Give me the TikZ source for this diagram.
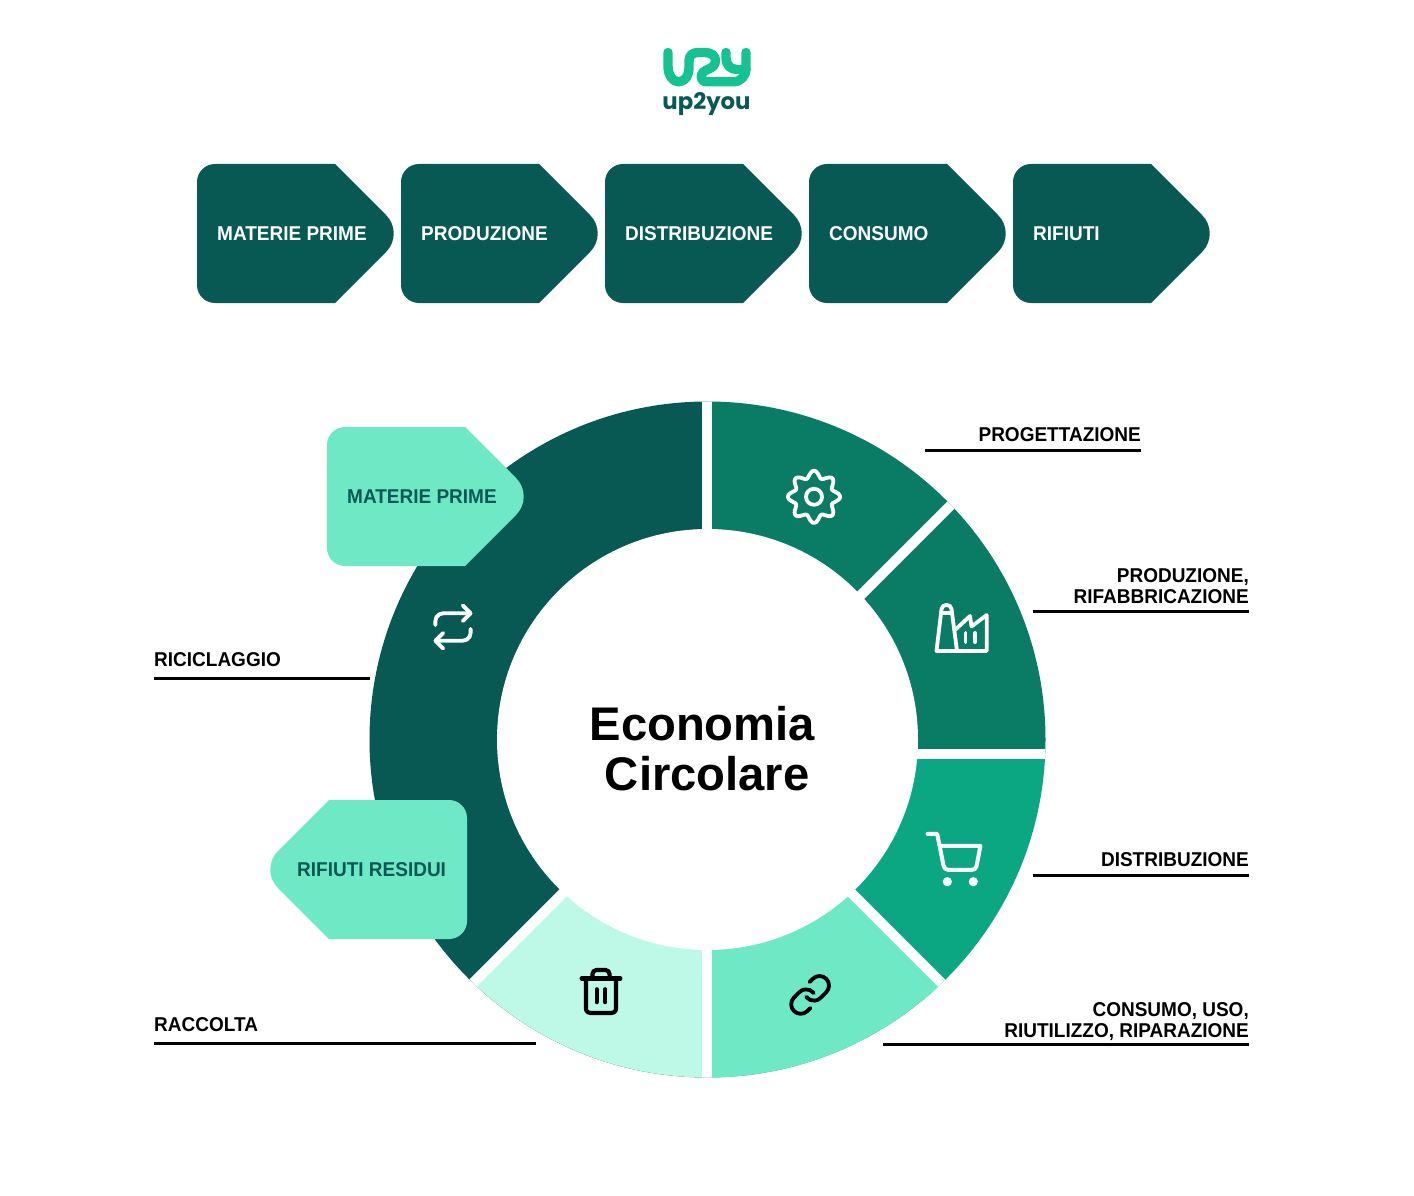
\documentclass[tikz,border=0pt]{standalone}
\usepackage{fontspec}
\setmainfont{Liberation Sans}
\newfontfamily\labfont[FakeStretch=0.95]{Liberation Sans Bold}
\newfontfamily\titlefont{Liberation Sans Bold}
\newfontfamily\logofont{Poppins Bold}
\usetikzlibrary{svg.path}
\definecolor{cdark}{HTML}{085954}
\definecolor{cone}{HTML}{0A7C66}
\definecolor{cthree}{HTML}{0BA783}
\definecolor{cfour}{HTML}{6EE8C5}
\definecolor{cfive}{HTML}{BEF8E6}
\definecolor{clogo}{HTML}{14C391}
\tikzset{
  lab/.style={font=\labfont\fontsize{20}{20}\selectfont,inner sep=0pt,text=black},
  boxlab/.style={lab,anchor=base west,text=white},
  lightlab/.style={lab,anchor=base west,text=cdark},
  leftlab/.style={lab,anchor=base west},
  rightlab/.style={lab,anchor=base east},
  leader/.style={draw=black,line width=3pt},
  gapline/.style={draw=white,line width=10pt},
  icon/.style={line width=3.8pt,line cap=round,line join=round},
  maintitle/.style={font=\titlefont\fontsize{47.2}{47.2}\selectfont,inner sep=0pt,anchor=base,text=black},
  logostroke/.style={draw=clogo,line width=9.4pt,line cap=round,line join=round},
}
\newcommand{\penta}[3]{%
  \begin{scope}[shift={(#1,#2)}]
    \fill[#3] (138,0) [rounded corners=26pt] -- (207.5,69.5) [sharp corners] -- (138,139)
      [rounded corners=18pt] -- (0,139) -- (0,0) [sharp corners] -- (138,0) -- cycle;
  \end{scope}}
\newcommand{\pentaL}[3]{%
  \begin{scope}[shift={(#1,#2)},xscale=-1]
    \fill[#3] (138,0) [rounded corners=26pt] -- (207.5,69.5) [sharp corners] -- (138,139)
      [rounded corners=18pt] -- (0,139) -- (0,0) [sharp corners] -- (138,0) -- cycle;
  \end{scope}}
\begin{document}
\begin{tikzpicture}[x=1pt,y=-1pt]
\useasboundingbox (0,0) rectangle (1414,1196);
\fill[white] (0,0) rectangle (1414,1196);

% logo
\draw[logostroke]
  (668,52.5) -- (668,66) .. controls (668,75.5) and (673,81.8) .. (678.5,81.8)
  .. controls (685,81.8) and (689,75.5) .. (689,67) -- (689,61)
  .. controls (689,55.5) and (692.5,52.5) .. (698,52.5) -- (705,52.5)
  .. controls (711.5,52.5) and (715.5,56) .. (715.5,60.5)
  .. controls (715.5,65.5) and (712,67.8) .. (708,69.3)
  .. controls (704,70.8) and (701.3,73) .. (701.3,76.5)
  .. controls (701.3,80) and (703.5,81.8) .. (707,81.8) -- (733,81.8)
  .. controls (741,81.8) and (746,76) .. (746,68) -- (746,52.5);
\draw[logostroke]
  (726,52.5) -- (726,58) .. controls (726,65) and (730.5,69.5) .. (737,69.5) -- (746,69.5);
\node[font=\logofont\fontsize{22.8}{22.8}\selectfont,text=cdark,inner sep=0pt,anchor=base] (logotext) at (706.5,110) {up2you};

% process arrows
\penta{197}{164}{cdark}
\penta{401}{164}{cdark}
\penta{605}{164}{cdark}
\penta{809}{164}{cdark}
\penta{1013}{164}{cdark}
\node[boxlab] (p1) at (217,240) {MATERIE PRIME};
\node[boxlab] (p2) at (421,240) {PRODUZIONE};
\node[boxlab] (p3) at (625,240) {DISTRIBUZIONE};
\node[boxlab] (p4) at (829,240) {CONSUMO};
\node[boxlab] (p5) at (1033,240) {RIFIUTI};

% ring
\begin{scope}
  \clip (707.5,739.5) circle[radius=338pt];
  \fill[cdark] (300,380) rectangle (707.3,1100);
  \fill[cone] (707.3,380) rectangle (1100,754.3);
  \fill[cthree] (707.3,754.3) rectangle (1100,1100);
  \fill[cfour] (707.3,748.8) -- (1100,1141.5) -- (707.3,1141.5) -- cycle;
  \fill[cfive] (707.3,748.7) -- (707.3,1150) -- (306,1150) -- cycle;
  \coordinate (gt) at (707.3,380);
  \coordinate (gb) at (707.3,1100);
  \coordinate (gr) at (1100,754.3);
  \coordinate (gc) at (707.3,754.3);
  \coordinate (g1a) at (356,1100);
  \coordinate (g1b) at (1056,400);
  \coordinate (g2a) at (707.25,748.75);
  \coordinate (g2b) at (1058.5,1100);
  \draw[gapline] (gt) -- (gb);
  \draw[gapline] (gc) -- (gr);
  \draw[gapline] (g1a) -- (g1b);
  \draw[gapline] (g2a) -- (g2b);
  \fill[white] (707.5,739.5) circle[radius=210.5pt];
\end{scope}

% ring icons: gear
\draw[white,line width=3.8pt,line join=round] plot[smooth cycle,samples=97,domain=0:356.25,variable=\t]
  ({814+(22.7+3.4*cos(8*\t))*cos(\t)},{496.8+(22.7+3.4*cos(8*\t))*sin(\t)});
\draw[white,line width=3.8pt] (814,496.8) circle[radius=8pt];

% factory
\draw[white,icon]
  (936.5,651) -- (941.5,609) .. controls (942,603.5) and (951,603.5) .. (951.5,609) -- (957,651) -- cycle;
\draw[white,icon]
  (955,630) -- (970,616) -- (971.5,626.5) -- (986.7,615) -- (986.7,651) -- (957,651);
\draw[white,icon] (942,613) -- (951,613);
\draw[white,icon] (965.5,633) -- (965.5,642);
\draw[white,icon] (975,633) -- (975,642);

% cart
\begin{scope}[shift={(954,860.3)},xscale=2.4,yscale=-2.4,shift={(-12pt,-12pt)}]
  \draw[white,icon,line width=4pt] svg {M 1 1 h 4 l 2.68 13.39 a 2 2 0 0 0 2 1.61 h 9.72 a 2 2 0 0 0 2 -1.61 L 23 6 H 6};
\end{scope}
\fill[white] (947.3,881.7) circle[radius=4.6pt];
\fill[white] (973.3,881.7) circle[radius=4.6pt];

% link
\begin{scope}[shift={(810,995)},xscale=1.9,yscale=-1.9,shift={(-12pt,-12pt)}]
  \draw[black,icon] svg {M 10 13 a 5 5 0 0 0 7.54 0.54 l 3 -3 a 5 5 0 0 0 -7.07 -7.07 l -1.72 1.71};
  \draw[black,icon] svg {M 14 11 a 5 5 0 0 0 -7.54 -0.54 l -3 3 a 5 5 0 0 0 7.07 7.07 l 1.71 -1.71};
\end{scope}

% trash
\begin{scope}[shift={(601,991.4)},xscale=2.15,yscale=-2.15,shift={(-12pt,-12pt)}]
  \draw[black,icon,line width=4.2pt] svg {M 3 6 H 21};
  \draw[black,icon,line width=4.2pt] svg {M 19 6 v 14 a 2 2 0 0 1 -2 2 H 7 a 2 2 0 0 1 -2 -2 V 6 m 3 0 V 4 a 2 2 0 0 1 2 -2 h 4 a 2 2 0 0 1 2 2 v 2};
  \draw[black,icon,line width=4.2pt] svg {M 10 11 V 17};
  \draw[black,icon,line width=4.2pt] svg {M 14 11 V 17};
\end{scope}

% repeat
\begin{scope}[shift={(453,627)},xscale=1.96,yscale=-1.96,shift={(-12pt,-12pt)}]
  \draw[white,icon] svg {M 17 1 L 21 5 L 17 9};
  \draw[white,icon] svg {M 3 11 V 9 a 4 4 0 0 1 4 -4 h 14};
  \draw[white,icon] svg {M 7 23 L 3 19 L 7 15};
  \draw[white,icon] svg {M 21 13 v 2 a 4 4 0 0 1 -4 4 H 3};
\end{scope}

% title
\node[maintitle] (t1) at (702.3,740.5) {Economia};
\node[maintitle] (t2) at (707.3,790) {Circolare};

% light arrows
\penta{327}{427}{cfour}
\node[lightlab] (m1) at (347,503) {MATERIE PRIME};
\pentaL{467}{800}{cfour}
\node[lightlab] (m2) at (297,876) {RIFIUTI RESIDUI};

% labels
\node[rightlab] (l1) at (1141,441) {PROGETTAZIONE};
\coordinate (l1a) at (925,450.5); \coordinate (l1b) at (1141,450.5);
\draw[leader] (l1a) -- (l1b);
\node[rightlab] (l2a) at (1249,582) {PRODUZIONE,};
\node[rightlab] (l2b) at (1249,603) {RIFABBRICAZIONE};
\coordinate (l2c) at (1033,611); \coordinate (l2d) at (1249,611);
\draw[leader] (l2c) -- (l2d);
\node[rightlab] (l3) at (1249,866) {DISTRIBUZIONE};
\coordinate (l3a) at (1033,875.5); \coordinate (l3b) at (1249,875.5);
\draw[leader] (l3a) -- (l3b);
\node[rightlab] (l4a) at (1249,1016) {CONSUMO, USO,};
\node[rightlab] (l4b) at (1249,1037) {RIUTILIZZO, RIPARAZIONE};
\coordinate (l4c) at (883,1044); \coordinate (l4d) at (1249,1044);
\draw[leader] (l4c) -- (l4d);
\node[leftlab] (l5) at (154,666) {RICICLAGGIO};
\coordinate (l5a) at (154,678.5); \coordinate (l5b) at (370,678.5);
\draw[leader] (l5a) -- (l5b);
\node[leftlab] (l6) at (154,1031) {RACCOLTA};
\coordinate (l6a) at (154,1043); \coordinate (l6b) at (536,1043);
\draw[leader] (l6a) -- (l6b);
\end{tikzpicture}
\end{document}
